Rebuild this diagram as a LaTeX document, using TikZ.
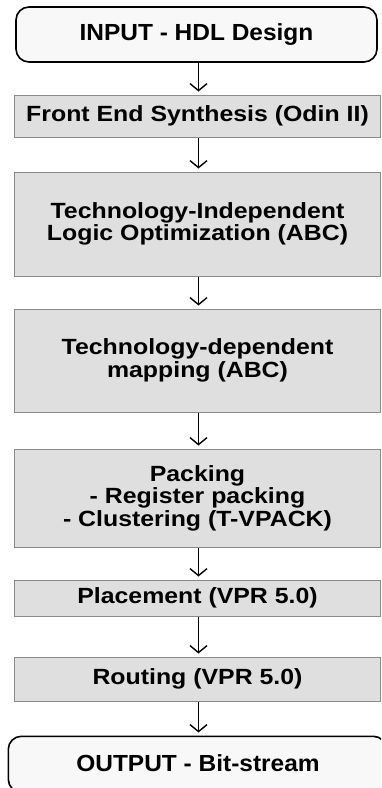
\documentclass[tikz,border=0pt]{standalone}
\usepackage{fontspec}
\setmainfont{Liberation Sans}
\newfontfamily\grayfont{Liberation Sans}[FakeStretch=1.13]
\newfontfamily\iofont{Liberation Sans}[FakeStretch=1.05]
\usetikzlibrary{arrows.meta}
\definecolor{boxgray}{HTML}{DFDFDF}
\definecolor{boxedge}{HTML}{8A8A8A}
\definecolor{ioback}{HTML}{F8F8F8}
\begin{document}
\begin{tikzpicture}[x=1pt,y=-1pt,
  txt/.style={font=\grayfont\bfseries\fontsize{22}{22.5}\selectfont, align=center, text=black},
  grayb/.style={txt, draw=boxedge, line width=1pt, fill=boxgray, inner sep=0pt, minimum width=366pt},
  iob/.style={txt, draw=black, line width=1.6pt, fill=ioback, rounded corners=13pt, inner sep=0pt, font=\iofont\bfseries\fontsize{23.3}{26}\selectfont},
  arr/.style={draw=black, line width=1.4pt, -{Straight Barb[length=7pt,width=17pt,line width=1.4pt]}, shorten >=3pt}
]
\clip (0,0) rectangle (381,788);
\node[iob, minimum width=361pt, minimum height=55pt] (in) at (196.5,34.5) {INPUT - HDL Design};
\node[grayb, minimum height=42pt] (fe) at (197.5,116) {Front End Synthesis (Odin II)};
\node[grayb, minimum height=104pt] (ti) at (197.5,224) {Technology-Independent\\Logic Optimization (ABC)};
\node[grayb, minimum height=103pt] (td) at (197.5,360.5) {Technology-dependent\\mapping (ABC)};
\node[grayb, minimum height=98pt] (pk) at (197.5,498) {Packing\\- Register packing\\- Clustering (T-VPACK)};
\node[grayb, minimum height=36pt] (pl) at (197.5,598) {Placement (VPR 5.0)};
\node[grayb, minimum height=44pt] (rt) at (197.5,679) {Routing (VPR 5.0)};
\node[iob, minimum width=378pt, minimum height=56pt, anchor=north west] (out) at (7.5,735.5) {};
\node[iob, draw=none, fill=none] (outt) at (198,763) {OUTPUT - Bit-stream};
\draw[arr] (198.5,62) coordinate (a1) -- (a1 |- fe.north);
\draw[arr] (fe.south -| a1) -- (a1 |- ti.north);
\draw[arr] (ti.south -| a1) -- (a1 |- td.north);
\draw[arr] (td.south -| a1) -- (a1 |- pk.north);
\draw[arr] (pk.south -| a1) -- (a1 |- pl.north);
\draw[arr] (pl.south -| a1) -- (a1 |- rt.north);
\draw[arr] (rt.south -| a1) -- (a1 |- out.north);
\end{tikzpicture}
\end{document}
